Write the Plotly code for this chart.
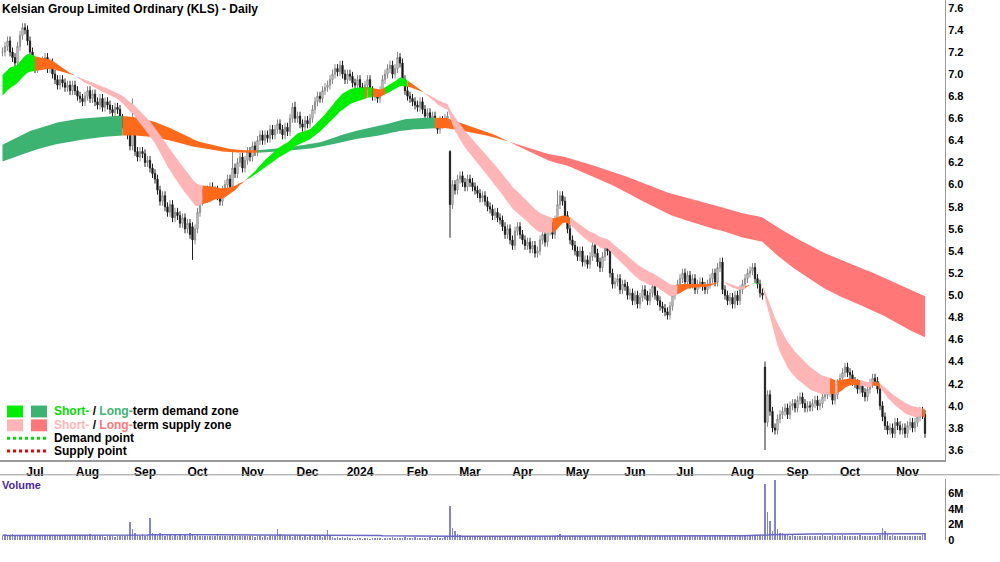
import plotly.graph_objects as go
from plotly.subplots import make_subplots
import pandas as pd

# daily closes (10 bars per row)
closes = [
    7.2, 7.25, 7.3, 7.2, 7.15, 7.1, 7.25, 7.35, 7.42, 7.4,
    7.3, 7.2, 7.1, 7.05, 7.1, 7.08, 7.12, 7.15, 7.05, 7.1,
    7.0, 6.95, 6.9, 6.95, 6.92, 6.88, 6.9, 6.85, 6.9, 6.85,
    6.8, 6.78, 6.75, 6.8, 6.85, 6.78, 6.82, 6.75, 6.72, 6.78,
    6.7, 6.75, 6.72, 6.68, 6.65, 6.7, 6.68, 6.6, 6.55, 6.52,
    6.45, 6.35, 6.55, 6.3, 6.25, 6.3, 6.28, 6.2, 6.22, 6.15,
    6.1, 6.05, 5.95, 5.85, 5.9, 5.8, 5.75, 5.82, 5.7, 5.75,
    5.72, 5.65, 5.7, 5.6, 5.65, 5.55, 5.5, 5.6, 5.75, 5.85,
    5.92, 5.95, 5.88, 5.98, 5.92, 5.95, 5.9, 5.85, 5.95, 6.0,
    6.05, 5.98, 6.15, 6.1, 6.2, 6.25, 6.15, 6.22, 6.3, 6.25,
    6.35, 6.3, 6.4, 6.45, 6.4, 6.45, 6.42, 6.5, 6.45, 6.5,
    6.55, 6.5, 6.45, 6.52, 6.48, 6.6, 6.7, 6.6, 6.62, 6.55,
    6.52, 6.58, 6.55, 6.6, 6.68, 6.75, 6.8, 6.78, 6.85, 6.88,
    6.9, 6.95, 7.0, 7.05, 7.02, 7.08, 7.0, 6.95, 7.0, 6.98,
    6.92, 6.9, 6.95, 6.88, 6.85, 6.9, 6.95, 6.85, 6.8, 6.82,
    6.78, 6.85, 6.95, 7.0, 7.05, 7.08, 7.0, 7.05, 7.15, 7.1,
    6.95, 6.85, 6.8, 6.78, 6.75, 6.72, 6.7, 6.75, 6.68, 6.62,
    6.65, 6.6, 6.62, 6.55, 6.5, 6.58, 6.55, 6.6, 6.62, 5.82,
    6.0, 5.95, 6.05, 6.08, 6.02, 5.98, 6.05, 6.02, 5.98, 5.95,
    5.92, 5.88, 5.9, 5.85, 5.8, 5.78, 5.72, 5.75, 5.7, 5.68,
    5.62, 5.55, 5.6, 5.5, 5.45, 5.58, 5.62, 5.55, 5.5, 5.45,
    5.48, 5.42, 5.45, 5.38, 5.4, 5.5, 5.55, 5.48, 5.58, 5.62,
    5.55, 5.68, 5.82, 5.9, 5.85, 5.72, 5.6, 5.5, 5.45, 5.4,
    5.35, 5.4, 5.3, 5.32, 5.28, 5.35, 5.45, 5.38, 5.3, 5.25,
    5.35, 5.45, 5.4, 5.2, 5.1, 5.12, 5.15, 5.05, 5.1, 5.08,
    5.0, 5.02, 4.95, 5.0, 4.92, 4.98, 5.05, 5.0, 4.95, 5.02,
    5.08, 5.0, 4.95, 4.9, 4.88, 4.85, 4.82, 4.9, 5.0, 5.05,
    5.1, 5.15, 5.2, 5.12, 5.18, 5.1, 5.15, 5.05, 5.1, 5.12,
    5.08, 5.05, 5.1, 5.15, 5.2, 5.12, 5.25, 5.3, 5.05, 5.0,
    4.95, 4.98, 4.92, 5.0, 4.95, 5.05, 5.1, 5.15, 5.2, 5.22,
    5.25, 5.15, 5.1, 5.02, 5.0, 3.85, 4.1, 3.95, 3.8, 3.78,
    3.88, 3.92, 3.95, 3.98, 3.92, 4.0, 4.02, 3.98, 4.05, 4.08,
    4.02, 3.98, 4.0, 3.99, 4.02, 4.05, 4.0, 4.02, 4.08, 4.1,
    4.12, 4.15, 4.05, 4.1, 4.2, 4.25, 4.3, 4.35, 4.3, 4.28,
    4.22, 4.2, 4.15, 4.18, 4.12, 4.08, 4.15, 4.2, 4.25, 4.22,
    4.15, 4.0, 3.9, 3.82, 3.78, 3.8, 3.75, 3.85, 3.82, 3.78,
    3.8, 3.75, 3.82, 3.85, 3.8, 3.85, 3.9, 3.95, 3.92, 3.75,
]
# bars whose open / extremes differ from the simple pattern
open_fix = {179: 6.3, 305: 4.35, 53: 6.5, 76: 5.62}
high_fix = {179: 6.31, 305: 4.4, 52: 6.78, 92: 6.3, 117: 6.75, 158: 7.2, 222: 5.95}
low_fix = {179: 5.52, 305: 3.6, 76: 5.32, 266: 4.78}

# volume in millions (10 bars per row)
volume = [
    0.6, 0.7, 0.5, 0.6, 0.8, 0.6, 0.5, 0.7, 0.6, 0.6,
    0.5, 0.6, 0.7, 0.5, 0.6, 0.6, 0.5, 0.6, 0.7, 0.5,
    0.6, 0.5, 0.6, 0.5, 0.6, 0.7, 0.5, 0.6, 0.5, 0.6,
    0.5, 0.6, 0.7, 0.5, 0.6, 0.8, 0.5, 0.6, 0.5, 0.6,
    0.5, 0.4, 0.5, 0.6, 0.5, 0.4, 0.5, 0.6, 0.5, 0.6,
    0.7, 2.4, 1.5, 0.9, 0.7, 0.6, 0.8, 0.6, 0.7, 2.9,
    0.9, 0.7, 0.8, 1.0, 0.7, 0.6, 0.7, 0.8, 0.6, 0.7,
    0.6, 0.7, 0.6, 0.8, 0.6, 0.9, 0.7, 0.6, 0.7, 0.6,
    0.5, 0.6, 0.5, 0.6, 0.5, 0.6, 0.7, 0.5, 0.6, 0.5,
    0.6, 0.5, 0.7, 0.5, 0.6, 0.5, 0.6, 0.5, 0.6, 0.5,
    0.5, 0.4, 0.5, 0.6, 0.4, 0.5, 0.4, 0.5, 0.6, 0.5,
    1.5, 0.8, 0.6, 0.5, 0.6, 0.5, 0.4, 0.5, 0.6, 0.5,
    0.4, 0.5, 0.4, 0.5, 0.4, 0.5, 0.6, 0.5, 0.4, 0.5,
    1.3, 0.5, 0.4, 0.3, 0.4, 0.3, 0.4, 0.3, 0.4, 0.3,
    0.3, 0.2, 0.3, 0.3, 0.2, 0.3, 0.3, 0.2, 0.3, 0.3,
    0.3, 0.3, 0.2, 0.3, 0.3, 0.3, 0.4, 0.3, 0.3, 0.3,
    0.3, 0.4, 0.3, 0.3, 0.3, 0.4, 0.3, 0.3, 0.3, 0.3,
    0.3, 0.4, 0.3, 0.3, 0.4, 0.3, 0.3, 0.4, 0.5, 4.4,
    1.6, 1.2, 0.8, 0.7, 0.6, 0.5, 0.6, 0.5, 0.5, 0.4,
    0.4, 0.5, 0.4, 0.5, 0.4, 0.4, 0.5, 0.4, 0.5, 0.4,
    0.4, 0.5, 0.4, 0.5, 0.4, 0.5, 0.4, 0.4, 0.5, 0.4,
    0.4, 0.5, 0.4, 0.5, 0.6, 0.5, 0.4, 0.5, 0.4, 0.5,
    0.5, 0.6, 0.7, 0.8, 0.6, 0.5, 0.6, 0.5, 0.6, 0.5,
    0.5, 0.6, 0.5, 0.6, 0.5, 0.6, 0.5, 0.6, 0.5, 0.6,
    0.5, 0.6, 0.5, 0.6, 0.7, 0.6, 0.5, 0.6, 0.5, 0.6,
    0.6, 0.5, 0.6, 0.5, 0.6, 0.7, 0.5, 0.6, 0.5, 0.6,
    0.5, 0.6, 0.7, 0.6, 0.5, 0.6, 0.5, 0.6, 0.5, 0.6,
    0.7, 0.6, 0.5, 0.6, 0.5, 0.6, 0.7, 0.5, 0.6, 0.5,
    0.6, 0.5, 0.6, 0.5, 0.6, 0.7, 0.6, 0.5, 0.6, 0.5,
    0.5, 0.6, 0.5, 0.6, 0.5, 0.6, 0.5, 0.6, 0.7, 0.5,
    0.6, 0.7, 0.6, 0.5, 0.6, 7.2, 3.6, 2.5, 1.2, 7.8,
    1.5, 1.0, 0.9, 0.8, 0.7, 0.6, 0.7, 0.6, 0.5, 0.6,
    0.5, 0.6, 0.5, 0.6, 0.5, 0.6, 0.5, 0.6, 0.7, 0.6,
    0.5, 0.6, 0.7, 0.6, 0.5, 0.6, 0.7, 0.6, 0.5, 0.6,
    0.6, 0.5, 0.6, 0.7, 0.6, 0.5, 0.6, 0.5, 0.6, 0.5,
    0.6, 0.7, 1.6, 1.2, 0.8, 0.6, 0.7, 0.5, 0.6, 0.5,
    0.6, 0.5, 0.6, 0.5, 0.6, 0.5, 0.6, 0.5, 0.7, 0.9,
]

# EMA seeds for the zone edges at the first bar
short_periods = [20, 35]
long_periods = [150, 240]
short_seed = [6.97, 6.78]
long_seed = [6.35, 6.2]

price_ticks = [3.6, 3.8, 4.0, 4.2, 4.4, 4.6, 4.8, 5.0, 5.2, 5.4, 5.6, 5.8,
               6.0, 6.2, 6.4, 6.6, 6.8, 7.0, 7.2, 7.4, 7.6]

n = len(closes)
dates = pd.bdate_range(end='2024-11-15', periods=n)
idx = list(range(n))

opens = [closes[0]] + closes[:-1]
for k, v in open_fix.items():
    opens[k] = v
highs = [max(o, c) + 0.04 for o, c in zip(opens, closes)]
lows = [min(o, c) - 0.04 for o, c in zip(opens, closes)]
for k, v in high_fix.items():
    highs[k] = v
for k, v in low_fix.items():
    lows[k] = v


def ema(vals, period, seed):
    a = 2 / (period + 1)
    out, e = [], seed
    for v in vals:
        e = e + a * (v - e)
        out.append(e)
    return out


def zone_traces(fast, slow, up_col, down_col, mid_col):
    state = []
    for i in range(n):
        rising = i < 3 or fast[i] >= fast[i - 3]
        if fast[i] >= slow[i] and rising:
            state.append(up_col)
        elif fast[i] < slow[i] and not rising:
            state.append(down_col)
        else:
            state.append(mid_col)
    traces = []
    start = 0
    for i in range(1, n + 1):
        if i == n or state[i] != state[start]:
            end = min(i, n - 1)
            xs = idx[start:end + 1]
            ys_top = fast[start:end + 1]
            ys_bot = slow[start:end + 1]
            traces.append(go.Scatter(
                x=xs + xs[::-1], y=ys_top + ys_bot[::-1], fill='toself',
                fillcolor=state[start], line=dict(width=0), mode='lines',
                hoverinfo='skip', showlegend=False))
            start = i
    return traces


s_fast = ema(closes, short_periods[0], short_seed[0])
s_slow = ema(closes, short_periods[1], short_seed[1])
l_fast = ema(closes, long_periods[0], long_seed[0])
l_slow = ema(closes, long_periods[1], long_seed[1])

fig = make_subplots(rows=2, cols=1, shared_xaxes=True)

for t in zone_traces(l_fast, l_slow, '#3cb371', '#ff7777', '#ff6a1a'):
    fig.add_trace(t, row=1, col=1)
for t in zone_traces(s_fast, s_slow, '#00ee00', '#ffb5b5', '#ff6a1a'):
    fig.add_trace(t, row=1, col=1)

fig.add_trace(go.Candlestick(
    x=idx, open=opens, high=highs, low=lows, close=closes,
    increasing=dict(fillcolor='white', line=dict(color='#888888', width=1)),
    decreasing=dict(fillcolor='black', line=dict(color='#222222', width=1)),
    whiskerwidth=0, showlegend=False), row=1, col=1)

vol = [v * 1e6 for v in volume]
vol_avg = pd.Series(vol).rolling(100, min_periods=1).mean()
fig.add_trace(go.Bar(x=idx, y=vol, marker=dict(color='#8484d4', line=dict(width=0)),
                     width=0.4, showlegend=False), row=2, col=1)
fig.add_trace(go.Scatter(x=idx, y=vol_avg, mode='lines', line=dict(color='#6a6ac0', width=1.5),
                         showlegend=False), row=2, col=1)

# month labels
month_pos, month_txt = [], []
prev = None
for i, d in enumerate(dates):
    if prev is not None and d.month != prev:
        month_pos.append(i + 3)
        month_txt.append('<b>2024</b>' if d.month == 1 else '<b>%s</b>' % d.strftime('%b'))
    prev = d.month

H = 552
font = 'Liberation Sans Narrow, Liberation Sans, Arial'
fig.update_layout(
    width=1000, height=H, margin=dict(l=0, r=55, t=0, b=0),
    paper_bgcolor='white', plot_bgcolor='white',
    font=dict(family=font, size=11, color='black'),
    xaxis_rangeslider_visible=False,
    bargap=0,
    yaxis=dict(domain=[1 - 465 / H, 1.0]),
    yaxis2=dict(domain=[6 / H, 1 - 484 / H]),
)
fig.update_xaxes(range=[-1, 377], showgrid=False, zeroline=False,
                 showline=True, linecolor='#999999', linewidth=2, mirror=False)
fig.update_xaxes(tickvals=month_pos, ticktext=month_txt, showticklabels=True,
                 tickfont=dict(size=12, family=font), ticks='', ticklabelstandoff=0,
                 row=1, col=1)
fig.update_xaxes(showticklabels=False, showline=False, row=2, col=1)
fig.update_yaxes(side='right', showgrid=False, zeroline=False, showline=True,
                 linecolor='#999999', ticks='', tickfont=dict(size=11, family=font))
fig.update_yaxes(range=[3.51, 7.67], tickvals=price_ticks,
                 ticktext=['<b>%.1f</b>' % v for v in price_ticks], row=1, col=1)
fig.update_yaxes(range=[0, 7.9e6], tickvals=[0, 2e6, 4e6, 6e6],
                 ticktext=['<b>0</b>', '<b>2M</b>', '<b>4M</b>', '<b>6M</b>'], row=2, col=1)

fig.add_annotation(text='<b>Kelsian Group Limited Ordinary (KLS) - Daily</b>', xref='paper', yref='paper',
                   x=0.0, y=1.0, xanchor='left', yanchor='top', showarrow=False,
                   font=dict(size=12, family='Liberation Sans, Arial'))
fig.add_annotation(text='<b>Volume</b>', xref='paper', yref='paper', x=0.0, y=1 - 482 / H,
                   xanchor='left', yanchor='top', showarrow=False,
                   font=dict(size=11, color='#4b2a9a', family=font))
# separator under the month strip
fig.add_shape(type='line', xref='paper', yref='paper', x0=0, x1=1.058, y0=1 - 480 / H,
              y1=1 - 480 / H, line=dict(color='#999999', width=1))

# legend drawn in pixel-like paper coordinates
def py(px):
    return 1 - px / H

def pxx(px):
    return px / 945

legend_rows = [
    (416, '#00ee00', '#3cb371',
     "<b><span style='color:#00dd00'>Short-</span> / <span style='color:#3cb371'>Long-</span>term demand zone</b>"),
    (430, '#ffb5b5', '#ff7777',
     "<b><span style='color:#ffb5b5'>Short-</span> / <span style='color:#ff7777'>Long-</span>term supply zone</b>"),
]
for y0, c1, c2, txt in legend_rows:
    fig.add_shape(type='rect', xref='paper', yref='paper', x0=pxx(7), x1=pxx(23),
                  y0=py(y0 - 6), y1=py(y0 + 6), fillcolor=c1, line=dict(width=0))
    fig.add_shape(type='rect', xref='paper', yref='paper', x0=pxx(31), x1=pxx(47),
                  y0=py(y0 - 6), y1=py(y0 + 6), fillcolor=c2, line=dict(width=0))
    fig.add_annotation(text=txt, xref='paper', yref='paper', x=pxx(52), y=py(y0),
                       xanchor='left', yanchor='middle', showarrow=False,
                       font=dict(size=12, family=font))
for y0, col, txt in [(443, '#00dd00', 'Demand point'), (456, '#ee0000', 'Supply point')]:
    fig.add_shape(type='line', xref='paper', yref='paper', x0=pxx(7), x1=pxx(47),
                  y0=py(y0), y1=py(y0), line=dict(color=col, width=3, dash='dot'))
    fig.add_annotation(text='<b>%s</b>' % txt, xref='paper', yref='paper', x=pxx(52), y=py(y0),
                       xanchor='left', yanchor='middle', showarrow=False,
                       font=dict(size=12, family=font))

fig.write_html("out.html", config={'displayModeBar': False},
               post_script="document.body.style.margin='0';document.body.style.overflow='hidden';")
